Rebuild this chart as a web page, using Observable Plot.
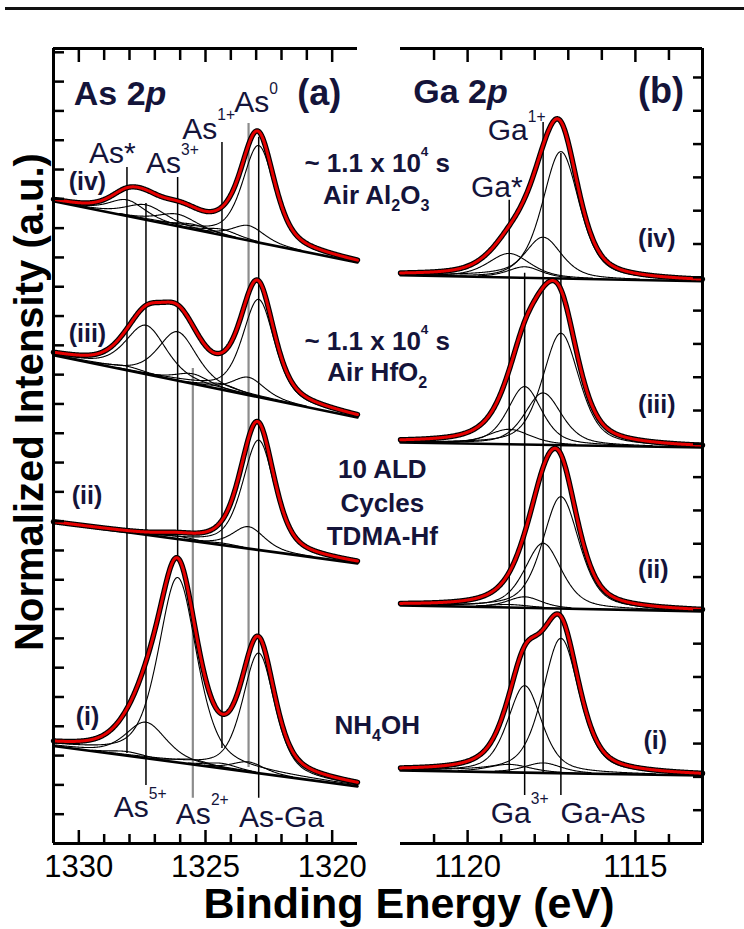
<!DOCTYPE html>
<html>
<head>
<meta charset="utf-8">
<script src="https://cdn.jsdelivr.net/npm/d3@7"></script>
<script src="https://cdn.jsdelivr.net/npm/@observablehq/plot@0.6"></script>
<style>
  html, body { margin: 0; padding: 0; background: #fff; }
  #fig { position: relative; width: 744px; height: 929px; overflow: hidden; background: #fff; font-family: "Liberation Sans", Arial, sans-serif; }
  #fig > svg { position: absolute; left: 0; top: 0; }
  #rule { position: absolute; left: 5px; width: 739px; top: 7px; height: 3px; background: #111; }
  #xlab { position: absolute; left: 0; width: 818px; top: 882px; text-align: center; font-weight: bold; font-size: 43px; line-height: 1; color: #000; white-space: nowrap; }
</style>
</head>
<body>
<div id="fig"><div id="rule"></div><div id="xlab">Binding Energy (eV)</div></div>
<script>
// ---------------- DATA ----------------
// Panel (a) As 2p
const asXDomain = [1331, 1319];
const asYMax = 27.13;
const asSpectra = ["(i)", "(ii)", "(iii)", "(iv)"];
const asComponents = ["As*", "As5+", "As3+", "As2+", "As1+", "As0", "As-Ga"];
const asCenters = [1328.1, 1327.35, 1326.1, 1325.5, 1324.35, 1323.3, 1322.9];
const asFwhm = [1.7, 1.9, 1.8, 1.6, 1.5, 1.5, 1.5];
// heights per spectrum, in the order of asComponents
const asHeights = [
  [0.14, 1.23, 6.31, 0.17, 0.17, 0.34, 4.10],
  [0.00, 0.00, 0.10, 0.00, 0.07, 0.75, 3.75],
  [0.14, 1.67, 1.67, 0.34, 0.20, 0.61, 3.34],
  [0.55, 0.51, 0.41, 0.17, 0.20, 0.51, 3.31]
];
const asBgLeft = [3.33, 10.96, 16.66, 21.92];
const asBgRight = [1.95, 9.56, 14.54, 19.83];
const asLineTop = [23.07, 21.84, 22.73, 16.21, 23.92, 24.57, 24.10];
const asLineBottom = [3.07, 1.98, 9.76, 1.54, 3.24, 2.59, 1.54];
const asLineGrey = [false, false, false, true, false, true, false];
const asMajorTicks = [1330, 1325, 1320];
const asMinorTicks = [1329, 1328, 1327, 1326, 1324, 1323, 1322, 1321];
const asYTicks = d3.range(1, 28);

// Panel (b) Ga 2p
const gaXDomain = [1122, 1113];
const gaYMax = 23.87;
const gaSpectra = ["(i)", "(ii)", "(iii)", "(iv)"];
const gaComponents = ["Ga*", "Ga3+", "Ga1+", "Ga-As"];
const gaCenters = [1118.76, 1118.3, 1117.75, 1117.22];
const gaFwhm = [1.5, 1.2, 1.3, 1.3];
const gaHeights = [
  [0.24, 2.61, 0.30, 4.05],
  [0.09, 0.33, 1.95, 3.36],
  [0.45, 1.74, 1.56, 3.36],
  [0.72, 0.33, 1.23, 3.81]
];
const gaBgLeft = [2.19, 7.15, 12.04, 17.06];
const gaBgRight = [2.04, 6.97, 11.89, 16.88];
const gaLineTop = [19.31, 17.12, 21.65, 20.72];
const gaLineBottom = [2.10, 1.44, 2.10, 1.44];
const gaMajorTicks = [1120, 1115];
const gaMinorTicks = [1121, 1119, 1118, 1117, 1116, 1114];
const gaYTicks = d3.range(1, 24);

const lorentzFraction = 0.5;

// Text
const yLabel = "Normalized Intensity (a.u.)";
const asTitle = [{t: "As 2|{p}", E: 1330.2, y: 25.19}];
const asTag = [{t: "(a)", E: 1321.38, y: 25.2}];
const asSpeciesLabels = [
  {t: "As*", E: 1329.6, y: 23.21},
  {t: "As^{3+}", E: 1327.35, y: 22.87},
  {t: "As^{1+}", E: 1325.92, y: 24.05},
  {t: "As^{0}", E: 1323.87, y: 24.95},
  {t: "As^{5+}", E: 1328.62, y: 0.89},
  {t: "As^{2+}", E: 1326.17, y: 0.68},
  {t: "As-Ga", E: 1323.68, y: 0.55}
];
const asSampleLabels = [
  {t: "(iv)", E: 1330.4, y: 22.29},
  {t: "(iii)", E: 1330.4, y: 17.1},
  {t: "(ii)", E: 1330.28, y: 11.6},
  {t: "(i)", E: 1330.12, y: 4.03}
];
const conditionLabels = [
  {t: "~ 1.1 x 10^{4} s", E: 1318.22, y: 22.9},
  {t: "Air Al_{2}O_{3}", E: 1318.26, y: 21.84},
  {t: "~ 1.1 x 10^{4} s", E: 1318.22, y: 16.83},
  {t: "Air HfO_{2}", E: 1318.22, y: 15.8},
  {t: "10 ALD", E: 1318.02, y: 12.46},
  {t: "Cycles", E: 1318.02, y: 11.3},
  {t: "TDMA-Hf", E: 1318.02, y: 10.17},
  {t: "NH_{4}OH", E: 1318.22, y: 3.75}
];
const gaTitle = [{t: "Ga 2|{p}", E: 1121.62, y: 22.22}];
const gaTag = [{t: "(b)", E: 1114.92, y: 22.22}];
const gaSpeciesLabels = [
  {t: "Ga^{1+}", E: 1119.4, y: 21.11},
  {t: "Ga*", E: 1119.9, y: 19.4},
  {t: "Ga^{3+}", E: 1119.31, y: 0.63},
  {t: "Ga-As", E: 1117.23, y: 0.63}
];
const gaSampleLabels = [
  {t: "(iv)", E: 1114.92, y: 17.9},
  {t: "(iii)", E: 1114.92, y: 12.94},
  {t: "(ii)", E: 1114.92, y: 7.96},
  {t: "(i)", E: 1114.76, y: 2.85}
];

// ---------------- BUILD ----------------
function pv(E, c, h, w) {
  const r = (E - c) / w;
  return h * ((1 - lorentzFraction) * Math.exp(-4 * Math.LN2 * r * r) + lorentzFraction / (1 + 4 * r * r));
}

function buildPanel(dom, spectra, names, centers, fwhm, heights, bgL, bgR) {
  const lo = Math.min(...dom), hi = Math.max(...dom);
  const grid = d3.range(lo, hi + 1e-9, 0.02);
  const comps = [], env = [], bgs = [];
  spectra.forEach((s, i) => {
    const bg = E => bgL[i] + (bgR[i] - bgL[i]) * (E - dom[0]) / (dom[1] - dom[0]);
    grid.forEach(E => {
      let sum = 0;
      names.forEach((n, j) => {
        const p = pv(E, centers[j], heights[i][j], fwhm[j]);
        sum += p;
        if (heights[i][j] > 0 && p > 0.03) comps.push({E, y: bg(E) + p, key: s + n});
      });
      env.push({E, y: bg(E) + sum, key: s});
    });
    bgs.push({E: dom[0], y: bgL[i], key: s}, {E: dom[1], y: bgR[i], key: s});
  });
  return {comps, env, bgs};
}

const A = buildPanel(asXDomain, asSpectra, asComponents, asCenters, asFwhm, asHeights, asBgLeft, asBgRight);
const B = buildPanel(gaXDomain, gaSpectra, gaComponents, gaCenters, gaFwhm, gaHeights, gaBgLeft, gaBgRight);

const asLines = asCenters.map((E, i) => ({E, top: asLineTop[i], bottom: asLineBottom[i], grey: asLineGrey[i]}));
const gaLines = gaCenters.map((E, i) => ({E, top: gaLineTop[i], bottom: gaLineBottom[i]}));

const FONT = "Liberation Sans, Arial, sans-serif";
const INK = "#14143a";
const RED = "#e60000";
const svgStyle = {background: "transparent", overflow: "visible", fontFamily: FONT};

function curveMarks(P) {
  return [
    Plot.line(P.bgs, {x: "E", y: "y", z: "key", stroke: "#000", strokeWidth: 2.6}),
    Plot.line(P.comps, {x: "E", y: "y", z: "key", stroke: "#000", strokeWidth: 1.1}),
    Plot.line(P.env, {x: "E", y: "y", z: "key", stroke: "#000", strokeWidth: 5.4}),
    Plot.line(P.env, {x: "E", y: "y", z: "key", stroke: RED, strokeWidth: 3})
  ];
}
function textMarks(data, opts) {
  return Plot.text(data, {x: "E", y: "y", text: "t", textAnchor: "start", lineAnchor: "bottom", fill: INK, ...opts});
}

const plotA = Plot.plot({
  width: 744, height: 929,
  marginLeft: 53, marginRight: 387, marginTop: 48, marginBottom: 86,
  x: {domain: asXDomain}, y: {domain: [0, asYMax]},
  style: svgStyle,
  marks: [
    Plot.ruleX(asLines.filter(d => !d.grey), {x: "E", y1: "bottom", y2: "top", stroke: "#000", strokeWidth: 1.5}),
    Plot.ruleX(asLines.filter(d => d.grey), {x: "E", y1: "bottom", y2: "top", stroke: "#8c8c8c", strokeWidth: 2.2}),
    ...curveMarks(A),
    Plot.ruleX([asXDomain[0]], {stroke: "#000", strokeWidth: 3}),
    Plot.ruleY([0], {stroke: "#000", strokeWidth: 3}),
    Plot.ruleY([asYMax], {stroke: "#000", strokeWidth: 3}),
    Plot.axisX(asMinorTicks, {anchor: "bottom", tickSize: -9, fill: "none", label: null, strokeWidth: 2.5}),
    Plot.axisX(asMajorTicks, {anchor: "bottom", tickSize: -13, fill: "none", label: null, strokeWidth: 2.5}),
    Plot.axisX(asMinorTicks, {anchor: "top", tickSize: -11, fill: "none", label: null, strokeWidth: 2.5}),
    Plot.axisX(asMajorTicks, {anchor: "top", tickSize: -13, fill: "none", label: null, strokeWidth: 2.5}),
    Plot.axisX(asMajorTicks, {anchor: "bottom", tickSize: 0, tickPadding: 11, tickFormat: "d", fontSize: 31, fill: "#000", label: null}),
    Plot.axisY(asYTicks, {anchor: "left", tickSize: -11, fill: "none", label: null, strokeWidth: 2.5}),
    Plot.text([yLabel], {text: d => d, frameAnchor: "left", rotate: -90, dx: -11, dy: -44, fontSize: 40, fontWeight: "bold", lineAnchor: "bottom", textAnchor: "middle", fill: "#000"}),
    textMarks(asTitle, {fontSize: 34, fontWeight: "bold"}),
    textMarks(asTag, {fontSize: 36, fontWeight: "bold"}),
    textMarks(asSpeciesLabels, {fontSize: 30}),
    textMarks(asSampleLabels, {fontSize: 25, fontWeight: "bold"}),
    textMarks(conditionLabels, {fontSize: 26, fontWeight: "bold", textAnchor: "middle"})
  ]
});

const plotB = Plot.plot({
  width: 744, height: 929,
  marginLeft: 400, marginRight: 42, marginTop: 48, marginBottom: 86,
  x: {domain: gaXDomain}, y: {domain: [0, gaYMax]},
  style: svgStyle,
  marks: [
    Plot.ruleX(gaLines, {x: "E", y1: "bottom", y2: "top", stroke: "#000", strokeWidth: 1.5}),
    ...curveMarks(B),
    Plot.ruleX([gaXDomain[1]], {stroke: "#000", strokeWidth: 3}),
    Plot.ruleY([0], {stroke: "#000", strokeWidth: 3}),
    Plot.ruleY([gaYMax], {stroke: "#000", strokeWidth: 3}),
    Plot.axisX(gaMinorTicks, {anchor: "bottom", tickSize: -9, fill: "none", label: null, strokeWidth: 2.5}),
    Plot.axisX(gaMajorTicks, {anchor: "bottom", tickSize: -13, fill: "none", label: null, strokeWidth: 2.5}),
    Plot.axisX(gaMinorTicks, {anchor: "top", tickSize: -11, fill: "none", label: null, strokeWidth: 2.5}),
    Plot.axisX(gaMajorTicks, {anchor: "top", tickSize: -13, fill: "none", label: null, strokeWidth: 2.5}),
    Plot.axisX(gaMajorTicks, {anchor: "bottom", tickSize: 0, tickPadding: 11, tickFormat: "d", fontSize: 31, fill: "#000", label: null}),
    Plot.axisY(gaYTicks, {anchor: "right", tickSize: -10, fill: "none", label: null, strokeWidth: 2.5}),
    textMarks(gaTitle, {fontSize: 34, fontWeight: "bold"}),
    textMarks(gaTag, {fontSize: 36, fontWeight: "bold"}),
    textMarks(gaSpeciesLabels, {fontSize: 30}),
    textMarks(gaSampleLabels, {fontSize: 25, fontWeight: "bold"})
  ]
});

const fig = document.getElementById("fig");
fig.appendChild(plotA);
fig.appendChild(plotB);

// rich text: ^{sup}, _{sub}, |{italic}
function richify(root) {
  root.querySelectorAll("text").forEach(t => {
    const s = t.textContent;
    if (!/[\^_|]\{/.test(s)) return;
    const fs = parseFloat(getComputedStyle(t).fontSize) || 16;
    while (t.firstChild) t.removeChild(t.firstChild);
    const re = /([\^_|])\{([^}]*)\}|([^\^_|]+)/g;
    let m, shift = 0;
    while ((m = re.exec(s))) {
      const ts = document.createElementNS("http://www.w3.org/2000/svg", "tspan");
      let target = 0;
      if (m[1] === "^") { target = -0.62 * fs; ts.setAttribute("font-size", 0.52 * fs); ts.textContent = m[2]; }
      else if (m[1] === "_") { target = 0.28 * fs; ts.setAttribute("font-size", 0.62 * fs); ts.textContent = m[2]; }
      else if (m[1] === "|") { ts.setAttribute("font-style", "italic"); ts.textContent = m[2]; }
      else ts.textContent = m[3];
      if (target !== shift) ts.setAttribute("dy", target - shift);
      shift = target;
      t.appendChild(ts);
    }
  });
}
richify(plotA);
richify(plotB);
</script>
</body>
</html>
